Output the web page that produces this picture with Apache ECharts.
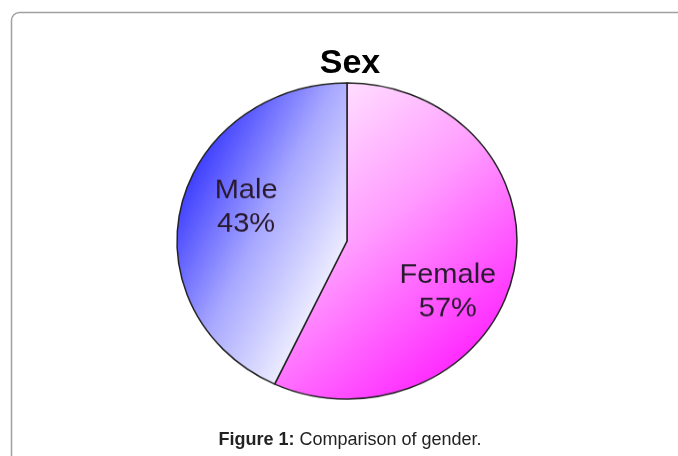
<!DOCTYPE html>
<html>
<head>
<meta charset="utf-8">
<script src="https://cdn.jsdelivr.net/npm/echarts@6/dist/echarts.min.js"></script>
<style>
html,body{margin:0;padding:0;background:#fff;}
#wrap{position:relative;width:678px;height:456px;overflow:hidden;}
#bg,#pie{position:absolute;left:0;top:0;width:678px;height:456px;}
#pie{transform:scaleY(0.93);transform-origin:0 241px;}
</style>
</head>
<body>
<div id="wrap"><div id="bg"></div><div id="pie"></div></div>
<script>
const chartTitle = 'Sex';
const categories = ['Female', 'Male'];
const values = [57, 43];
const captionBold = 'Figure 1:';
const captionText = ' Comparison of gender.';

const bg = echarts.init(document.getElementById('bg'), null, {renderer: 'canvas'});
bg.setOption({
  animation: false,
  title: {
    text: chartTitle,
    left: 345, top: 42, textAlign: 'center',
    textStyle: {fontFamily: 'Liberation Sans, Arial, sans-serif', fontWeight: 'bold', fontSize: 34, color: '#000'}
  },
  graphic: [
    {type: 'rect', shape: {x: 11.5, y: 12.5, width: 900, height: 700, r: 8},
     style: {fill: 'none', stroke: '#a0a0a0', lineWidth: 1.5}},
    {type: 'text', x: 350, y: 440,
     style: {text: '{b|' + captionBold + '}{n|' + captionText + '}', align: 'center', verticalAlign: 'middle',
       rich: {
         b: {fontFamily: 'Liberation Sans, Arial, sans-serif', fontWeight: 'bold', fontSize: 18, fill: '#222'},
         n: {fontFamily: 'Liberation Sans, Arial, sans-serif', fontSize: 18, fill: '#222'}
       }}}
  ]
});

const pie = echarts.init(document.getElementById('pie'), null, {renderer: 'canvas'});
const fills = [
  new echarts.graphic.LinearGradient(0, 0, 1, 0.8, [
    {offset: 0, color: '#fff6ff'}, {offset: 0.5, color: '#ff9cff'}, {offset: 1, color: '#ff1eff'}]),
  new echarts.graphic.LinearGradient(0, 0.35, 1, 0.6, [
    {offset: 0, color: '#3636ff'}, {offset: 0.5, color: '#a8a8ff'}, {offset: 1, color: '#f4f4ff'}])
];
const labelShift = [[15, 36], [-15, -17]];
pie.setOption({
  animation: false,
  series: [{
    type: 'pie',
    center: [347, 241],
    radius: [0, 170],
    startAngle: 90,
    clockwise: true,
    silent: true,
    data: categories.map((c, i) => ({name: c, value: values[i], itemStyle: {color: fills[i]}})),
    itemStyle: {borderColor: '#222', borderWidth: 1.5},
    label: {
      show: true, position: 'inside',
      formatter: p => p.name + '\n' + Math.round(p.percent) + '%',
      fontFamily: 'Liberation Sans, Arial, sans-serif', fontSize: 29, lineHeight: 36,
      color: '#2a1a30', fontWeight: 'normal', textBorderWidth: 0
    },
    labelLine: {show: false},
    labelLayout: p => ({dx: labelShift[p.dataIndex][0], dy: labelShift[p.dataIndex][1]})
  }]
});
</script>
</body>
</html>
